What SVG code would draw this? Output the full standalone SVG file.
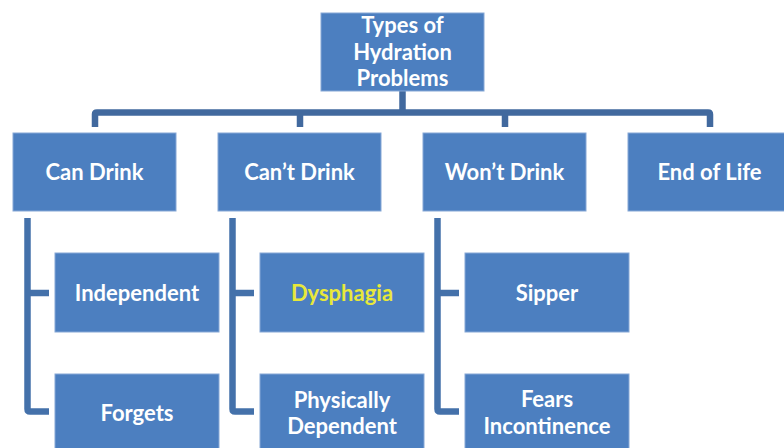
<svg xmlns="http://www.w3.org/2000/svg" width="784" height="448" viewBox="0 0 784 448">
<style>
.box{fill:#4C7FC0;stroke:#86A8D6;stroke-width:1}
.t{font-family:Lato,"Open Sans",sans-serif;font-weight:bold;font-size:22px;fill:#FFFFFF;text-anchor:middle}
.y{fill:#E8E83A}
.c{fill:none;stroke:#4471AA;stroke-width:6.5;stroke-linejoin:round}
.top{stroke:#41699E}
</style>
<rect width="784" height="448" fill="#FFFFFF"/>
<g id="connectors">
<path class="c top" d="M402.5 91 V112.5 M95 127 V114 Q95 112.5 97 112.5 H708 Q710 112.5 710 114.5 V127 M300 112.5 V127 M505 112.5 V127"/>
<path class="c" d="M49 293 H27.5 M27.5 218 V409 Q27.5 411.5 30 411.5 H49"/>
<path class="c" d="M254 293 H232.5 M232.5 218 V409 Q232.5 411.5 235 411.5 H254"/>
<path class="c" d="M459 293 H437.5 M437.5 218 V409 Q437.5 411.5 440 411.5 H459"/>
</g>
<g id="root"><rect class="box" x="321" y="13" width="163" height="78"/>
<text class="t" x="402.5" y="33">Types of</text><text class="t" x="402.5" y="60">Hydration</text><text class="t" x="402.5" y="86">Problems</text></g>
<g id="can-drink"><rect class="box" x="13" y="133" width="163" height="78"/><text class="t" x="94.5" y="180">Can Drink</text></g>
<g id="cant-drink"><rect class="box" x="218" y="133" width="163" height="78"/><text class="t" x="299.5" y="180">Can’t Drink</text></g>
<g id="wont-drink"><rect class="box" x="423" y="133" width="163" height="78"/><text class="t" x="504.5" y="180">Won’t Drink</text></g>
<g id="end-of-life"><rect class="box" x="628" y="133" width="163" height="78"/><text class="t" x="709.5" y="180">End of Life</text></g>
<g id="independent"><rect class="box" x="55" y="253" width="164" height="79"/><text class="t" x="137" y="301">Independent</text></g>
<g id="forgets"><rect class="box" x="55" y="374" width="164" height="79"/><text class="t" x="137" y="421">Forgets</text></g>
<g id="dysphagia"><rect class="box" x="260" y="253" width="164" height="79"/><text class="t y" x="342" y="301">Dysphagia</text></g>
<g id="physically-dependent"><rect class="box" x="260" y="374" width="164" height="79"/><text class="t" x="342" y="408">Physically</text><text class="t" x="342" y="434">Dependent</text></g>
<g id="sipper"><rect class="box" x="465" y="253" width="164" height="79"/><text class="t" x="547" y="301">Sipper</text></g>
<g id="fears-incontinence"><rect class="box" x="465" y="374" width="164" height="79"/><text class="t" x="547" y="407">Fears</text><text class="t" x="547" y="434">Incontinence</text></g>
</svg>
